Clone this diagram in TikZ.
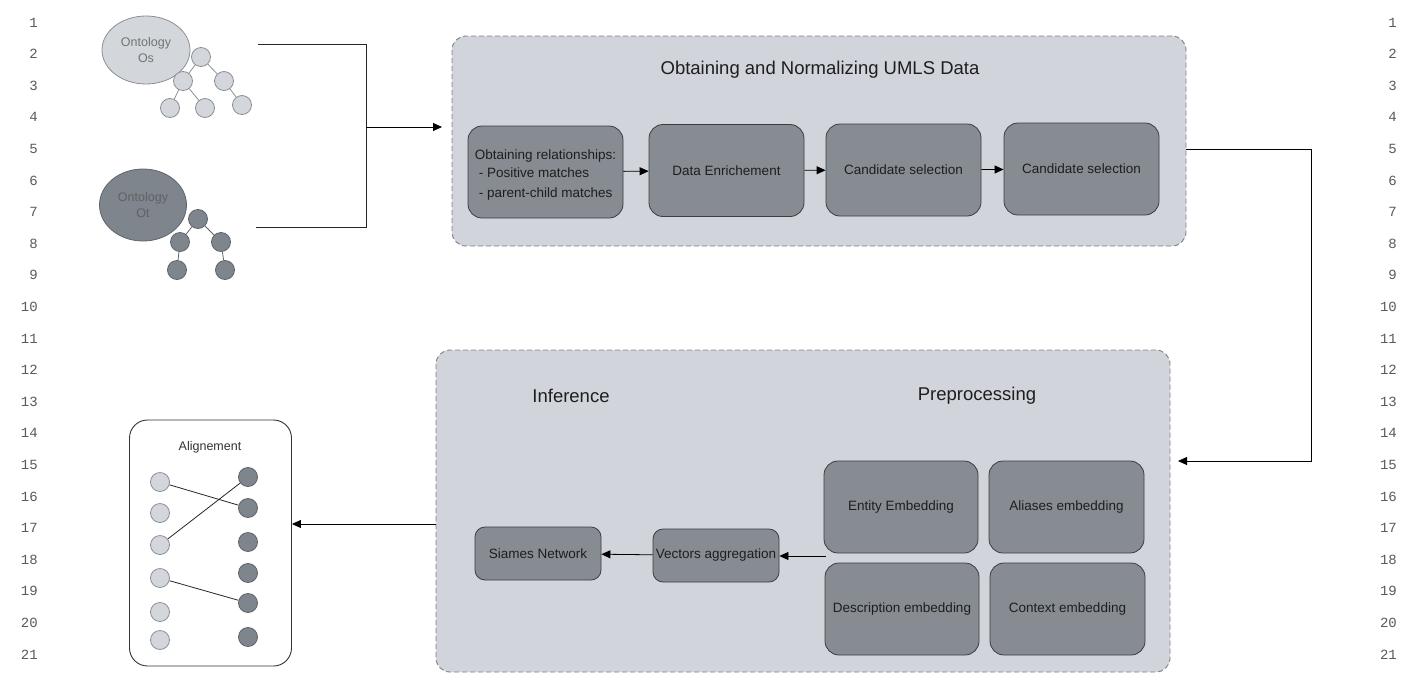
\documentclass[tikz,border=0pt]{standalone}
\usepackage{fontspec}
\setmainfont{Liberation Sans}
\newfontfamily\numfont{Liberation Mono}
\usetikzlibrary{arrows.meta,shapes.geometric}

\definecolor{panelfill}{HTML}{D1D5DB}
\definecolor{panelline}{HTML}{7C8086}
\definecolor{boxfill}{HTML}{878C93}
\definecolor{boxline}{HTML}{3A3D41}
\definecolor{lightfill}{HTML}{D3D6DB}
\definecolor{lightline}{HTML}{8C9096}
\definecolor{darkfill}{HTML}{7F858C}
\definecolor{darkline}{HTML}{5F646A}
\definecolor{numcol}{HTML}{5A5A5A}
\definecolor{txt}{HTML}{1E1E1E}

\tikzset{
  fs/.style={font=\fontsize{#1}{16}\selectfont},
  panel/.style={draw=panelline, dash pattern=on 5pt off 3pt, fill=panelfill,
    rounded corners=14pt, inner sep=0pt, line width=0.9pt},
  stepbox/.style={draw=boxline, fill=boxfill, rounded corners=14pt, inner sep=2pt,
    text=txt, fs=13.5, align=center, line width=0.8pt},
  smallbox/.style={stepbox, rounded corners=10pt, minimum width=126pt, minimum height=53pt},
  bigbox/.style={stepbox, minimum width=155pt, minimum height=92pt},
  lightdot/.style={circle, draw=lightline, fill=lightfill, minimum size=19pt, inner sep=0pt, line width=0.8pt},
  darkdot/.style={circle, draw=darkline, fill=darkfill, minimum size=19pt, inner sep=0pt, line width=0.8pt},
  lighttree/.style={draw=lightline, line width=0.8pt},
  darktree/.style={draw=darkline, line width=0.8pt},
  arr/.style={-{Triangle[length=9pt,width=8pt]}, line width=0.8pt, draw=black},
  conn/.style={line width=0.8pt, draw=black!85},
  heading/.style={fs=18.5, text=txt},
  linenum/.style={font=\numfont\fontsize{14}{16}\selectfont, text=numcol, anchor=east, inner sep=0pt}
}

\begin{document}
\begin{tikzpicture}[x=1pt, y=-1pt]
\fill[white] (0,0) rectangle (1416,675);
\useasboundingbox (0,0) rectangle (1416,675);

% line numbers on both margins
\foreach \i in {1,...,21} {
  \node[linenum] (ln\i) at (38, 22.5+31.6*\i-31.6) {\i};
  \node[linenum] (rn\i) at (1397, 22.5+31.6*\i-31.6) {\i};
}

% source ontology and its tree
\node[ellipse, draw=lightline, fill=lightfill, minimum width=88pt, minimum height=68pt,
      inner sep=0pt, line width=0.8pt, text=black!55, fs=12.5, align=center] (os) at (146,50) {Ontology\\Os};
\node[lightdot] (s1) at (201,57) {};
\node[lightdot] (s2) at (183,81) {};
\node[lightdot] (s3) at (224,81) {};
\node[lightdot] (s4) at (170,108) {};
\node[lightdot] (s5) at (205,108) {};
\node[lightdot] (s6) at (242,105) {};
\draw[lighttree] (s1) -- (s2);
\draw[lighttree] (s1) -- (s3);
\draw[lighttree] (s2) -- (s4);
\draw[lighttree] (s2) -- (s5);
\draw[lighttree] (s3) -- (s6);

% target ontology and its tree
\node[ellipse, draw=darkline, fill=darkfill, minimum width=87pt, minimum height=72pt,
      inner sep=0pt, line width=0.8pt, text=black!62, fs=12.5, align=center] (ot) at (143,205) {Ontology\\Ot};
\node[darkdot] (t1) at (198,219) {};
\node[darkdot] (t2) at (180,242) {};
\node[darkdot] (t3) at (221,242) {};
\node[darkdot] (t4) at (177,270) {};
\node[darkdot] (t5) at (225,270) {};
\draw[darktree] (t1) -- (t2);
\draw[darktree] (t1) -- (t3);
\draw[darktree] (t2) -- (t4);
\draw[darktree] (t3) -- (t5);

% UMLS panel
\node[panel, minimum width=734pt, minimum height=210pt] (p1) at (819,141) {};
\node[heading] (p1title) at (820,70) {Obtaining and Normalizing UMLS Data};
\node[bigbox] (b1) at (545.5,172) {};
\node[stepbox, draw=none, fill=none, align=left] (b1text) at (545.5,175) {Obtaining relationships:\\[2pt]
  \hspace*{4pt}- Positive matches\\[4pt]
  \hspace*{4pt}- parent-child matches};
\node[bigbox] (b2) at (726.5,170.5) {Data Enrichement};
\node[bigbox] (b3) at (903.5,170) {Candidate selection};
\node[bigbox] (b4) at (1081.5,169) {Candidate selection};
\draw[arr] (b1) -- (b2);
\draw[arr] (b2) -- (b3);
\draw[arr] (b3) -- (b4);

% both ontologies feed the UMLS panel
\coordinate (osout) at (258,44);
\coordinate (otout) at (256,227);
\coordinate (join) at (366,127);
\coordinate (p1in) at (442,127);
\draw[conn] (osout) -| (join |- otout) -- (otout);
\draw[arr] (join) -- (p1in);

% preprocessing / inference panel
\node[panel, minimum width=734pt, minimum height=322pt] (p2) at (803,511) {};
\node[heading] (inf) at (571,396) {Inference};
\node[heading] (pre) at (977,396) {Preprocessing};
\node[bigbox, minimum width=154pt] (ent) at (901,507) {Entity Embedding};
\node[bigbox] (ali) at (1066.5,507) {Aliases embedding};
\node[bigbox, minimum width=154pt] (des) at (902,609) {Description embedding};
\node[bigbox] (ctx) at (1067.5,609) {Context embedding};
\node[smallbox] (vec) at (716,555.5) {Vectors aggregation};
\node[smallbox] (sia) at (538,553.5) {Siames Network};
\coordinate (embout) at (826,556);
\draw[arr] (embout) -- (vec.east |- embout);
\draw[arr] (vec) -- (sia);

% UMLS panel to preprocessing panel
\coordinate (turn) at (1311,149);
\coordinate (p2in) at (1178,461);
\draw[arr] (p1.east |- turn) -- (turn) |- (p2in);

% alignment result
\node[draw=black!80, fill=white, rounded corners=18pt, line width=0.9pt,
      minimum width=162pt, minimum height=246pt, inner sep=0pt] (al) at (210.5,543) {};
\node[fs=12.5, text=black!80] (altitle) at (210,447) {Alignement};
\foreach \n/\y in {1/482,2/513,3/545,4/578,5/612,6/640}
  \node[lightdot] (l\n) at (160,\y) {};
\foreach \n/\y in {1/477,2/508,3/542,4/573,5/603,6/637}
  \node[darkdot] (r\n) at (248,\y) {};
\draw[conn] (l1) -- (r2);
\draw[conn] (l3) -- (r1);
\draw[conn] (l4) -- (r5);
\coordinate (p2out) at (436,524);
\draw[arr] (p2out) -- (al.east |- p2out);
\end{tikzpicture}
\end{document}
